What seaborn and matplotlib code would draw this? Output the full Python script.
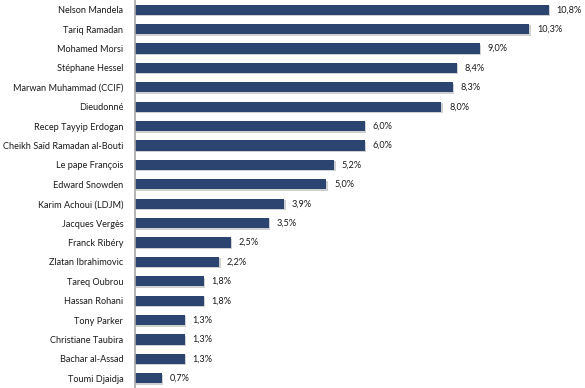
import matplotlib
matplotlib.use("Agg")
import matplotlib.pyplot as plt
import matplotlib.patheffects as pe
import pandas as pd
import seaborn as sns

names = ["Nelson Mandela", "Tariq Ramadan", "Mohamed Morsi", "Stéphane Hessel",
         "Marwan Muhammad (CCIF)", "Dieudonné", "Recep Tayyip Erdogan",
         "Cheikh Saïd Ramadan al-Bouti", "Le pape François", "Edward Snowden",
         "Karim Achoui (LDJM)", "Jacques Vergès", "Franck Ribéry",
         "Zlatan Ibrahimovic", "Tareq Oubrou", "Hassan Rohani", "Tony Parker",
         "Christiane Taubira", "Bachar al-Assad", "Toumi Djaidja"]
values = [10.8, 10.3, 9.0, 8.4, 8.3, 8.0, 6.0, 6.0, 5.2, 5.0,
          3.9, 3.5, 2.5, 2.2, 1.8, 1.8, 1.3, 1.3, 1.3, 0.7]

df = pd.DataFrame({"name": names, "value": values})

sns.set_style("white")
plt.rcParams["font.family"] = ["Lato", "DejaVu Sans"]

fig = plt.figure(figsize=(5.85, 3.88), dpi=100)
ax = fig.add_axes([135 / 585, 0.0, 450 / 585, 1.0])

sns.barplot(data=df, x="value", y="name", color="#2b4570", width=0.52,
            saturation=1, ax=ax, edgecolor="none")
for p in ax.patches:
    p.set_path_effects([pe.SimplePatchShadow(offset=(1.0, -1.0), alpha=0.2),
                        pe.Normal()])

for i, v in enumerate(values):
    ax.text(v + 0.2, i, f"{v:.1f}%".replace(".", ","), va="center",
            ha="left", fontsize=6.6, color="#1a1a1a")

ax.set_xlim(0, 11.75)
ax.set_ylim(19.5, -0.5)
ax.set_xlabel("")
ax.set_ylabel("")
ax.set_xticks([])
ax.tick_params(axis="y", length=0, pad=8.5, labelsize=6.6, labelcolor="#1a1a1a")
for s in ["top", "right", "bottom"]:
    ax.spines[s].set_visible(False)
ax.spines["left"].set_color("#a6a6a6")
ax.spines["left"].set_linewidth(1.2)

fig.savefig("out.png", dpi=100)
